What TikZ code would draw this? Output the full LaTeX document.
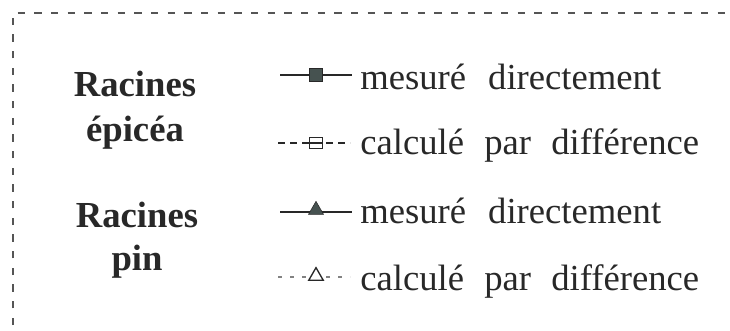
\documentclass[tikz,border=0pt]{standalone}
\usepackage{fontspec}
\setmainfont{Liberation Serif}
\usetikzlibrary{shapes.geometric,positioning}
\definecolor{ink}{RGB}{40,40,40}
\definecolor{framegray}{RGB}{85,85,85}
\definecolor{markfill}{RGB}{70,82,80}
\definecolor{lightdash}{RGB}{130,130,130}

\begin{document}
\begin{tikzpicture}[
    x=0.75pt, y=-0.75pt,
    group/.style={anchor=base, inner sep=0pt, text=ink, font=\fontsize{27.5}{33}\selectfont\bfseries},
    legtext/.style={anchor=base west, inner sep=0pt, text=ink, font=\fontsize{27.5}{33}\selectfont},
    sqfull/.style={draw=ink, fill=markfill, rectangle, inner sep=0pt, minimum size=10pt},
    sqopen/.style={draw=ink, fill=white, rectangle, inner sep=0pt, minimum width=9.5pt, minimum height=8.5pt},
    trifull/.style={draw=ink, fill=markfill, regular polygon, regular polygon sides=3, inner sep=0pt, minimum size=13pt},
    triopen/.style={draw=ink, fill=white, regular polygon, regular polygon sides=3, inner sep=0pt, minimum size=12.5pt, line width=1pt},
    solidline/.style={draw=ink, line width=0.8pt},
    dashline/.style={draw=ink, line width=0.8pt, dash pattern=on 5pt off 4pt},
    frameline/.style={draw=framegray, line width=1.5pt, dash pattern=on 5.5pt off 7pt}
]
    \useasboundingbox (0,0) rectangle (730,331);

    % Frame (only left and top edges show)
    \draw[frameline] (13,325) -- (13,13) -- (730,13);

    % Group labels
    \node[group] (epA) at (135,97) {Racines};
    \node[group] (epB) at (135,142) {épicéa};
    \node[group] (piA) at (137,227) {Racines};
    \node[group] (piB) at (137,270) {pin};

    % Legend texts
    \node[legtext] (t1) at (360,90) {mesuré\hspace{0.6em}directement};
    \node[legtext] (t2) at (360,155) {calculé\hspace{0.55em}par\hspace{0.55em}différence};
    \node[legtext] (t3) at (360,223) {mesuré\hspace{0.6em}directement};
    \node[legtext] (t4) at (360,290) {calculé\hspace{0.55em}par\hspace{0.55em}différence};

    % Spruce samples
    \coordinate (a1) at (280,75); \coordinate (b1) at (352,75);
    \coordinate (a2) at (278,143); \coordinate (b2) at (350,143);
    \draw[solidline] (a1) -- (b1);
    \node[sqfull] (m1) at (316,75) {};
    \draw[dashline] (a2) -- (b2);
    \node[sqopen] (m2) at (316,143) {};
    \draw[ink, line width=0.8pt] (m2.west) -- (m2.east);

    % Pine samples
    \coordinate (a3) at (280,212); \coordinate (b3) at (352,212);
    \coordinate (a4) at (278,277); \coordinate (b4) at (350,277);
    \draw[solidline] (a3) -- (b3);
    \node[trifull] (m3) at (316,210) {};
    \draw[dashline, draw=lightdash, dash pattern=on 3pt off 6pt] (a4) -- (b4);
    \node[triopen] (m4) at (316,276) {};

\end{tikzpicture}
\end{document}
